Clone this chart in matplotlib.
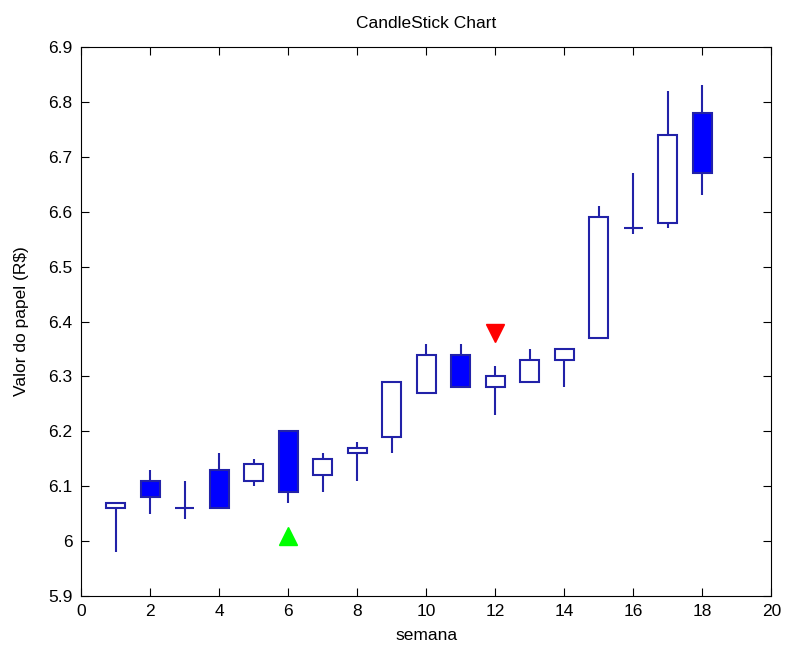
import matplotlib.pyplot as plt
import numpy as np

plt.rcParams['font.family'] = ['Liberation Sans', 'DejaVu Sans']

# weekly prices
semana = np.arange(1, 19)
abertura = [6.06, 6.11, 6.06, 6.13, 6.11, 6.20, 6.12, 6.16, 6.19, 6.27, 6.34, 6.28, 6.29, 6.33, 6.37, 6.57, 6.58, 6.78]
fechamento = [6.07, 6.08, 6.06, 6.06, 6.14, 6.09, 6.15, 6.17, 6.29, 6.34, 6.28, 6.30, 6.33, 6.35, 6.59, 6.57, 6.74, 6.67]
maxima = [6.07, 6.13, 6.11, 6.16, 6.15, 6.20, 6.16, 6.18, 6.29, 6.36, 6.36, 6.32, 6.35, 6.35, 6.61, 6.67, 6.82, 6.83]
minima = [5.98, 6.05, 6.04, 6.06, 6.10, 6.07, 6.09, 6.11, 6.16, 6.27, 6.28, 6.23, 6.29, 6.28, 6.37, 6.56, 6.57, 6.63]

# buy / sell signals
compra_x, compra_y = [6], [6.01]
venda_x, venda_y = [12], [6.38]

abertura = np.array(abertura)
fechamento = np.array(fechamento)
topo = np.maximum(abertura, fechamento)
base = np.minimum(abertura, fechamento)
cores = ['#0000ff' if c < o else 'white' for o, c in zip(abertura, fechamento)]

borda = '#2222a8'

fig = plt.figure(figsize=(7.87, 6.48), dpi=100)
ax = fig.add_axes([0.103, 0.080, 0.877, 0.8475])

ax.vlines(semana, minima, maxima, color=borda, linewidth=1.5, zorder=2)
ax.bar(semana, topo - base, bottom=base, width=0.55, color=cores,
       edgecolor=borda, linewidth=1.5, zorder=3)

ax.plot(compra_x, compra_y, marker='^', color='#00ff00', markersize=13,
        linestyle='none', zorder=4)
ax.plot(venda_x, venda_y, marker='v', color='#ff0000', markersize=13,
        linestyle='none', zorder=4)

ax.set_xlim(0, 20)
ax.set_ylim(5.9, 6.9)
ax.set_xticks(np.arange(0, 21, 2))
ax.set_yticks(np.arange(5.9, 6.91, 0.1))
ax.set_yticklabels(['5.9', '6', '6.1', '6.2', '6.3', '6.4', '6.5', '6.6', '6.7', '6.8', '6.9'])
ax.tick_params(direction='in', top=True, right=True, labelsize=12.5, length=6, pad=6)

ax.set_title('CandleStick Chart', fontsize=12.5, pad=14)
ax.set_xlabel('semana', fontsize=12.5, labelpad=6)
ax.set_ylabel(r'Valor do papel (R\$)', fontsize=12.5, labelpad=14)

fig.savefig('out.png', dpi=100)
